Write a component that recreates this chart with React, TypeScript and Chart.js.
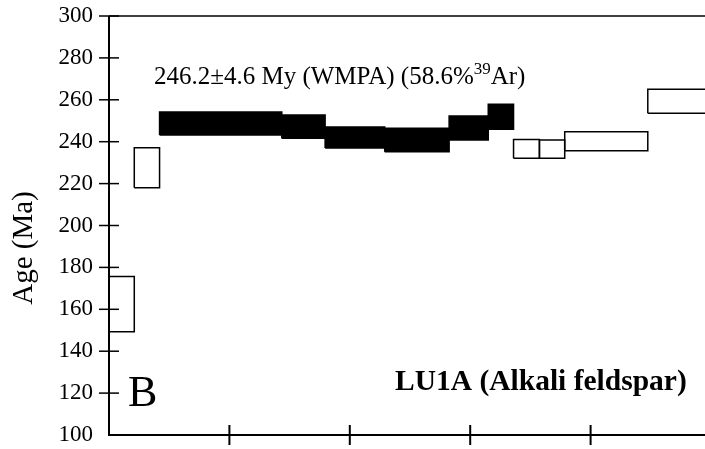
import React, { useEffect, useRef } from "react";
import { Chart, registerables } from "chart.js";

Chart.register(...registerables);

// Cumulative %39Ar released: start and end of each heating step
const stepStart = [0, 4.2, 8.4, 28.7, 35.9, 45.8, 56.5, 63.0, 67.2, 71.5, 75.7, 89.5];
const stepEnd = [4.2, 8.4, 28.7, 35.9, 45.8, 56.5, 63.0, 67.2, 71.5, 75.7, 89.5, 100];
// Apparent age (Ma) upper and lower error limits of each step
const ageHigh = [175.6, 237.1, 254.2, 252.7, 247.0, 246.4, 252.3, 257.9, 241.1, 240.8, 244.8, 265.0];
const ageLow = [149.3, 218.0, 243.2, 241.6, 237.0, 235.2, 240.8, 245.9, 232.1, 232.1, 235.7, 253.6];
// Steps included in the plateau (filled)
const inPlateau = [false, false, true, true, true, true, true, true, false, false, false, false];

const yTickValues = [100, 120, 140, 160, 180, 200, 220, 240, 260, 280, 300];
const xTickValues = [20, 40, 60, 80];

const yAxisTitle = "Age (Ma)";
const plateauText = "246.2±4.6 My (WMPA) (58.6%";
const plateauSup = "39";
const plateauTail = "Ar)";
const sampleText = "LU1A (Alkali feldspar)";
const panelText = "B";

const SERIF = '"Liberation Serif", "Times New Roman", serif';

const decorPlugin = {
  id: "decor",
  afterDraw(chart: any) {
    const { ctx, chartArea, scales } = chart;
    const xs = scales.x;
    const ys = scales.y;
    const L = chartArea.left;
    const R = chartArea.right;
    const T = chartArea.top;
    const B = chartArea.bottom;
    ctx.save();
    ctx.strokeStyle = "#000";
    ctx.fillStyle = "#000";
    // axis lines
    ctx.lineWidth = 2;
    ctx.beginPath();
    ctx.moveTo(L, T);
    ctx.lineTo(L, B);
    ctx.lineTo(R, B);
    ctx.stroke();
    ctx.lineWidth = 1.5;
    ctx.beginPath();
    ctx.moveTo(L, T);
    ctx.lineTo(R, T);
    ctx.stroke();
    // y ticks crossing axis
    ctx.lineWidth = 1.5;
    yTickValues.forEach((v) => {
      const y = ys.getPixelForValue(v);
      if (v === 100) return;
      ctx.beginPath();
      ctx.moveTo(L - 10, y);
      ctx.lineTo(L + 10, y);
      ctx.stroke();
    });
    // x ticks crossing axis
    ctx.lineWidth = 2;
    xTickValues.forEach((v) => {
      const x = xs.getPixelForValue(v);
      ctx.beginPath();
      ctx.moveTo(x, B - 10);
      ctx.lineTo(x, B + 10);
      ctx.stroke();
    });
    // y axis title
    ctx.save();
    ctx.translate(24, 248);
    ctx.rotate(-Math.PI / 2);
    ctx.font = `29px ${SERIF}`;
    ctx.textAlign = "center";
    ctx.textBaseline = "middle";
    ctx.fillText(yAxisTitle, 0, 0);
    ctx.restore();
    // plateau annotation
    ctx.textAlign = "left";
    ctx.textBaseline = "alphabetic";
    ctx.font = `25px ${SERIF}`;
    let tx = 154;
    const ty = 84;
    ctx.fillText(plateauText, tx, ty);
    tx += ctx.measureText(plateauText).width;
    ctx.font = `17px ${SERIF}`;
    ctx.fillText(plateauSup, tx, ty - 10);
    tx += ctx.measureText(plateauSup).width;
    ctx.font = `25px ${SERIF}`;
    ctx.fillText(plateauTail, tx, ty);
    // sample label
    ctx.font = `bold 29.5px ${SERIF}`;
    ctx.fillText(sampleText, 395, 390);
    // panel label
    ctx.font = `44px ${SERIF}`;
    ctx.fillText(panelText, 128, 406);
    ctx.restore();
  },
};

export default function App() {
  const canvasRef = useRef<HTMLCanvasElement | null>(null);

  useEffect(() => {
    if (!canvasRef.current) return;
    const datasets = stepStart.map((s, i) => ({
      data: [
        { x: s, y: ageLow[i] },
        { x: stepEnd[i], y: ageLow[i] },
        { x: stepEnd[i], y: ageHigh[i] },
        { x: s, y: ageHigh[i] },
        { x: s, y: ageLow[i] },
      ],
      showLine: true,
      fill: inPlateau[i] ? "shape" : false,
      backgroundColor: inPlateau[i] ? "#000" : "#fff",
      borderColor: "#000",
      borderWidth: 1.5,
      pointRadius: 0,
      pointHoverRadius: 0,
      tension: 0,
    }));

    const chart = new Chart(canvasRef.current, {
      type: "scatter",
      data: { datasets: datasets as any },
      plugins: [decorPlugin],
      options: {
        animation: false,
        responsive: false,
        devicePixelRatio: 1,
        layout: { padding: { top: 16, right: 0, left: 0, bottom: 0 } },
        plugins: {
          legend: { display: false },
          tooltip: { enabled: false },
          title: { display: false },
        },
        scales: {
          x: {
            type: "linear",
            min: 0,
            max: 100,
            grid: { display: false, drawTicks: false },
            border: { display: false },
            ticks: { display: false },
            afterFit: (scale: any) => {
              scale.height = 14;
              scale.paddingLeft = 0;
              scale.paddingRight = 0;
            },
          },
          y: {
            type: "linear",
            min: 100,
            max: 300,
            grid: { display: false, drawTicks: false },
            border: { display: false },
            afterBuildTicks: (scale: any) => {
              scale.ticks = yTickValues.map((v) => ({ value: v }));
            },
            ticks: {
              padding: 16,
              color: "#000",
              font: { family: SERIF, size: 23 },
            },
            afterFit: (scale: any) => {
              scale.width = 109;
              scale.paddingTop = 0;
              scale.paddingBottom = 0;
            },
          },
        },
      } as any,
    });
    return () => chart.destroy();
  }, []);

  return (
    <div
      style={{
        position: "absolute",
        left: 0,
        top: 0,
        width: 705,
        height: 449,
        overflow: "hidden",
        background: "#fff",
      }}
    >
      <canvas ref={canvasRef} width={711} height={449} style={{ display: "block" }} />
    </div>
  );
}
